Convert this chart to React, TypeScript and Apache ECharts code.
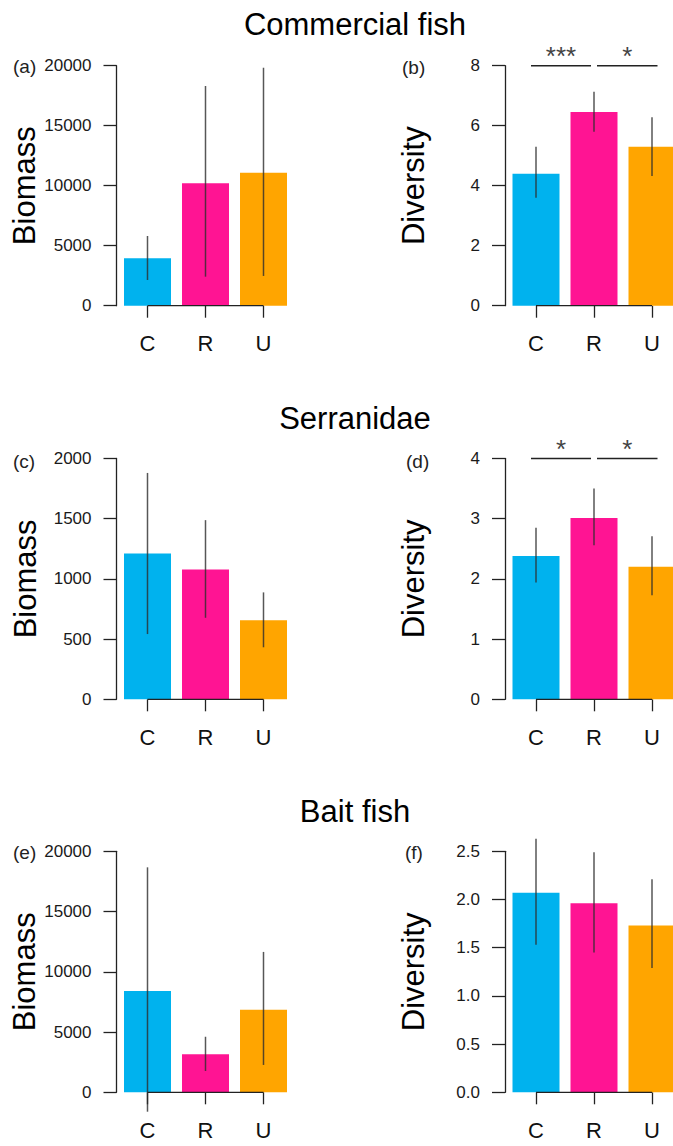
import { useEffect, useRef } from 'react';
import * as echarts from 'echarts';

const FONT = '"Liberation Sans", Arial, Helvetica, sans-serif';

const categories = ['C', 'R', 'U'];
const barColors = ['#00B2EE', '#FF1493', '#FFA500'];

// Commercial fish
const commercialBiomassMean = [3950, 10200, 11080];
const commercialBiomassLow = [2140, 2420, 2480];
const commercialBiomassHigh = [5810, 18310, 19830];
const commercialDiversityMean = [4.4, 6.46, 5.3];
const commercialDiversityLow = [3.6, 5.8, 4.32];
const commercialDiversityHigh = [5.3, 7.13, 6.28];
const commercialSig = [
  { from: 0, to: 1, label: '***' },
  { from: 1, to: 2, label: '*' },
];

// Serranidae
const serranidaeBiomassMean = [1212, 1079, 656];
const serranidaeBiomassLow = [542, 677, 432];
const serranidaeBiomassHigh = [1880, 1488, 888];
const serranidaeDiversityMean = [2.38, 3.01, 2.2];
const serranidaeDiversityLow = [1.94, 2.56, 1.73];
const serranidaeDiversityHigh = [2.85, 3.5, 2.71];
const serranidaeSig = [
  { from: 0, to: 1, label: '*' },
  { from: 1, to: 2, label: '*' },
];

// Bait fish
const baitBiomassMean = [8400, 3150, 6860];
const baitBiomassLow = [-1610, 1770, 2270];
const baitBiomassHigh = [18670, 4610, 11650];
const baitDiversityMean = [2.07, 1.96, 1.73];
const baitDiversityLow = [1.53, 1.45, 1.29];
const baitDiversityHigh = [2.63, 2.49, 2.21];

// Axis ranges [max, interval, decimals]
const biomassAxisCommercial = [20000, 5000, 0];
const diversityAxisCommercial = [8, 2, 0];
const biomassAxisSerranidae = [2000, 500, 0];
const diversityAxisSerranidae = [4, 1, 0];
const biomassAxisBait = [20000, 5000, 0];
const diversityAxisBait = [2.5, 0.5, 1];

const groupTitles = ['Commercial fish', 'Serranidae', 'Bait fish'];
const panelLetters = ['(a)', '(b)', '(c)', '(d)', '(e)', '(f)'];

type Sig = { from: number; to: number; label: string };
type Panel = {
  ylabel: string;
  mean: number[];
  low: number[];
  high: number[];
  axis: number[];
  sig: Sig[];
  row: number;
  col: number;
};

const panels: Panel[] = [
  { ylabel: 'Biomass', mean: commercialBiomassMean, low: commercialBiomassLow, high: commercialBiomassHigh, axis: biomassAxisCommercial, sig: [], row: 0, col: 0 },
  { ylabel: 'Diversity', mean: commercialDiversityMean, low: commercialDiversityLow, high: commercialDiversityHigh, axis: diversityAxisCommercial, sig: commercialSig, row: 0, col: 1 },
  { ylabel: 'Biomass', mean: serranidaeBiomassMean, low: serranidaeBiomassLow, high: serranidaeBiomassHigh, axis: biomassAxisSerranidae, sig: [], row: 1, col: 0 },
  { ylabel: 'Diversity', mean: serranidaeDiversityMean, low: serranidaeDiversityLow, high: serranidaeDiversityHigh, axis: diversityAxisSerranidae, sig: serranidaeSig, row: 1, col: 1 },
  { ylabel: 'Biomass', mean: baitBiomassMean, low: baitBiomassLow, high: baitBiomassHigh, axis: biomassAxisBait, sig: [], row: 2, col: 0 },
  { ylabel: 'Diversity', mean: baitDiversityMean, low: baitDiversityLow, high: baitDiversityHigh, axis: diversityAxisBait, sig: [], row: 2, col: 1 },
];

const colLeft = [118.5, 507];
const rowTop = [65.7, 458.5, 851.3];
const rowHeight = [240, 240.8, 241];
const gridWidth = 174;

const titleY = [24, 418.5, 811];
const letterPos = [
  [13, 66],
  [402, 67],
  [13, 461],
  [406, 461],
  [13, 852],
  [405, 852],
];

const AXIS_COLOR = '#222';

function buildOption() {
  const grid: any[] = [];
  const xAxis: any[] = [];
  const yAxis: any[] = [];
  const series: any[] = [];

  panels.forEach((p, k) => {
    const [max, interval, decimals] = p.axis;
    grid.push({
      left: colLeft[p.col],
      top: rowTop[p.row],
      width: gridWidth,
      height: rowHeight[p.row],
      containLabel: false,
    });
    xAxis.push({
      type: 'category',
      gridIndex: k,
      data: categories,
      axisLine: { show: false },
      axisTick: { show: true, alignWithLabel: true, length: 12, lineStyle: { color: AXIS_COLOR, width: 1.3 } },
      axisLabel: { fontSize: 22, margin: 27, color: '#111', fontFamily: FONT },
      splitLine: { show: false },
    });
    yAxis.push({
      type: 'value',
      gridIndex: k,
      min: 0,
      max,
      interval,
      offset: 2,
      axisLine: { show: true, lineStyle: { color: AXIS_COLOR, width: 1.3 } },
      axisTick: { show: true, length: 13, lineStyle: { color: AXIS_COLOR, width: 1.3 } },
      splitLine: { show: false },
      axisLabel: {
        fontSize: 17,
        margin: 25,
        color: '#1a1a1a',
        fontFamily: FONT,
        formatter: (v: number) => v.toFixed(decimals),
      },
      name: p.ylabel,
      nameLocation: 'middle',
      nameGap: 76,
      nameRotate: 90,
      nameTextStyle: { fontSize: 31, color: '#000', fontFamily: FONT },
    });

    series.push({
      type: 'bar',
      xAxisIndex: k,
      yAxisIndex: k,
      barWidth: 47,
      data: p.mean.map((v, i) => ({ value: v, itemStyle: { color: barColors[i] } })),
      z: 2,
    });

    // x-axis base line between first and last category
    series.push({
      type: 'custom',
      xAxisIndex: k,
      yAxisIndex: k,
      data: [[0, 0]],
      silent: true,
      z: 4,
      renderItem: (_params: any, api: any) => {
        const a = api.coord([0, 0]);
        const b = api.coord([categories.length - 1, 0]);
        return {
          type: 'line',
          shape: { x1: a[0], y1: a[1], x2: b[0], y2: b[1] },
          style: { stroke: AXIS_COLOR, lineWidth: 1.3 },
        };
      },
    });

    // error bars
    series.push({
      type: 'custom',
      xAxisIndex: k,
      yAxisIndex: k,
      data: p.mean.map((_v, i) => [i, p.low[i], p.high[i]]),
      encode: { x: 0, y: [1, 2] },
      silent: true,
      clip: false,
      z: 3,
      renderItem: (_params: any, api: any) => {
        const a = api.coord([api.value(0), api.value(1)]);
        const b = api.coord([api.value(0), api.value(2)]);
        return {
          type: 'line',
          shape: { x1: a[0], y1: a[1], x2: b[0], y2: b[1] },
          style: { stroke: 'rgba(45,45,45,0.8)', lineWidth: 1.5 },
        };
      },
    });

    if (p.sig.length) {
      series.push({
        type: 'custom',
        xAxisIndex: k,
        yAxisIndex: k,
        data: p.sig.map((s) => [s.from, s.to, max]),
        silent: true,
        clip: false,
        z: 5,
        renderItem: (params: any, api: any) => {
          const s = p.sig[params.dataIndex];
          const a = api.coord([s.from, max]);
          const b = api.coord([s.to, max]);
          const x1 = a[0] + (s.from === 1 ? 3 : -5);
          const x2 = b[0] + (s.to === 1 ? -3 : 5.5);
          return {
            type: 'group',
            children: [
              {
                type: 'line',
                shape: { x1, y1: a[1], x2, y2: b[1] },
                style: { stroke: AXIS_COLOR, lineWidth: 1.4 },
              },
              {
                type: 'text',
                x: (x1 + x2) / 2,
                y: a[1] - 10,
                style: {
                  text: s.label,
                  fontSize: 26,
                  fontFamily: FONT,
                  fill: '#444',
                  align: 'center',
                  verticalAlign: 'middle',
                },
              },
            ],
          };
        },
      });
    }
  });

  const graphic: any[] = [];
  groupTitles.forEach((t, i) => {
    graphic.push({
      type: 'text',
      x: 355,
      y: titleY[i],
      style: { text: t, fontSize: 31, fontFamily: FONT, fill: '#000', align: 'center', verticalAlign: 'middle' },
    });
  });
  panelLetters.forEach((t, i) => {
    graphic.push({
      type: 'text',
      x: letterPos[i][0],
      y: letterPos[i][1],
      style: { text: t, fontSize: 19, fontFamily: FONT, fill: '#222', align: 'left', verticalAlign: 'middle' },
    });
  });

  return {
    animation: false,
    backgroundColor: '#fff',
    grid,
    xAxis,
    yAxis,
    series,
    graphic,
  };
}

export default function App() {
  const ref = useRef<HTMLDivElement>(null);
  useEffect(() => {
    document.body.style.margin = '0';
    const chart = echarts.init(ref.current!, null, { renderer: 'svg' });
    chart.setOption(buildOption() as any);
    return () => chart.dispose();
  }, []);
  return (
    <div style={{ width: 673, height: 1146, overflow: 'hidden', position: 'relative' }}>
      <div ref={ref} style={{ width: 700, height: 1146 }} />
    </div>
  );
}
